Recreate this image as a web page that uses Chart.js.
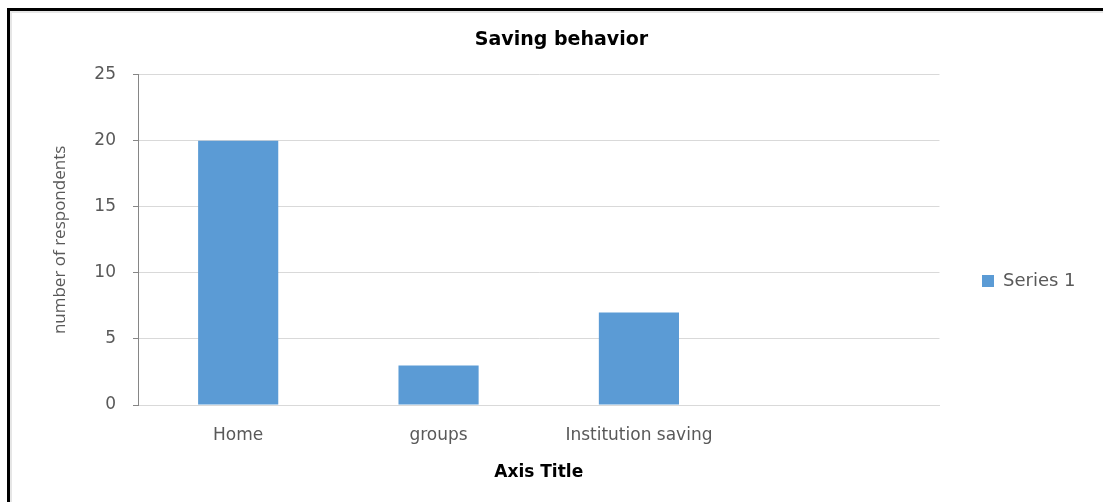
<!DOCTYPE html>
<html>
<head>
<meta charset="utf-8">
<script src="https://cdn.jsdelivr.net/npm/chart.js@4.4.1/dist/chart.umd.min.js"></script>
<style>
  html, body { margin: 0; padding: 0; background: #fff; }
  #wrap { position: relative; width: 1103px; height: 502px; overflow: hidden; }
  #marco {
    position: absolute; left: 7px; top: 8px; right: -20px; bottom: -20px;
    border-top: 3px solid #000; border-left: 3px solid #000;
    box-shadow: inset 2px 2px 0 #e6e6e6;
    pointer-events: none;
  }
  canvas { position: absolute; left: 0; top: 0; }
</style>
</head>
<body>
<div id="wrap">
  <canvas id="grafico" width="1103" height="502"></canvas>
  <div id="marco"></div>
</div>
<script>
// --- DATOS ---
const categorias = ['Home', 'groups', 'Institution saving', ''];
const serie1 = [20, 3, 7, null];
const nombreSerie = 'Series 1';
const tituloGrafico = 'Saving behavior';
const tituloY = 'number of respondents';
const tituloX = 'Axis Title';

const gris = '#595959';
const fuente = 'DejaVu Sans';

// ubica la leyenda a la derecha (un poco mas abajo que el centro) y corre el titulo
const posLeyenda = {
    id: 'posLeyenda',
    afterLayout(chart) {
        const lg = chart.legend;
        if (lg) {
            const w = lg.right - lg.left;
            lg.left = 972;
            lg.right = 972 + w;
            lg.top = 231;
            lg.bottom = 331;
        }
        const tb = chart.titleBlock;
        if (tb) {
            tb.left += 10;
            tb.right += 10;
        }
    }
};

new Chart(document.getElementById('grafico'), {
    type: 'bar',
    data: {
        labels: categorias,
        datasets: [{
            label: nombreSerie,
            data: serie1,
            backgroundColor: '#5B9BD5',
            borderWidth: 0,
            categoryPercentage: 0.8,
            barPercentage: 0.5
        }]
    },
    options: {
        responsive: false,
        devicePixelRatio: 1,
        animation: false,
        layout: { padding: { left: 50, right: 50, top: 29, bottom: 12 } },
        plugins: {
            title: {
                display: true,
                text: tituloGrafico,
                color: '#000',
                font: { family: fuente, size: 19, weight: 'bold' },
                padding: { top: 0, bottom: 23 }
            },
            legend: {
                position: 'right',
                labels: {
                    color: gris,
                    font: { family: fuente, size: 18 },
                    boxWidth: 12,
                    boxHeight: 12
                }
            },
            tooltip: { enabled: false }
        },
        scales: {
            x: {
                grid: { display: false },
                border: { color: '#D9D9D9' },
                ticks: { color: gris, font: { family: fuente, size: 17 }, padding: 12, maxRotation: 0 },
                title: {
                    display: true,
                    text: tituloX,
                    color: '#000',
                    font: { family: fuente, size: 17, weight: 'bold' },
                    padding: { top: 6, bottom: 7 }
                },
                afterFit: s => { s.height = 502 - 405 - 12; }
            },
            y: {
                min: 0,
                max: 25,
                ticks: { stepSize: 5, color: gris, font: { family: fuente, size: 17 }, padding: 17 },
                grid: { color: '#D9D9D9', tickColor: '#868686', tickLength: 5 },
                border: { color: '#868686' },
                title: {
                    display: true,
                    text: tituloY,
                    color: gris,
                    font: { family: 'Open Sans', size: 17 },
                    padding: { top: 0, bottom: 0 }
                },
                afterFit: s => { s.width = 138 - 50; }
            }
        }
    },
    plugins: [posLeyenda]
});
</script>
</body>
</html>
